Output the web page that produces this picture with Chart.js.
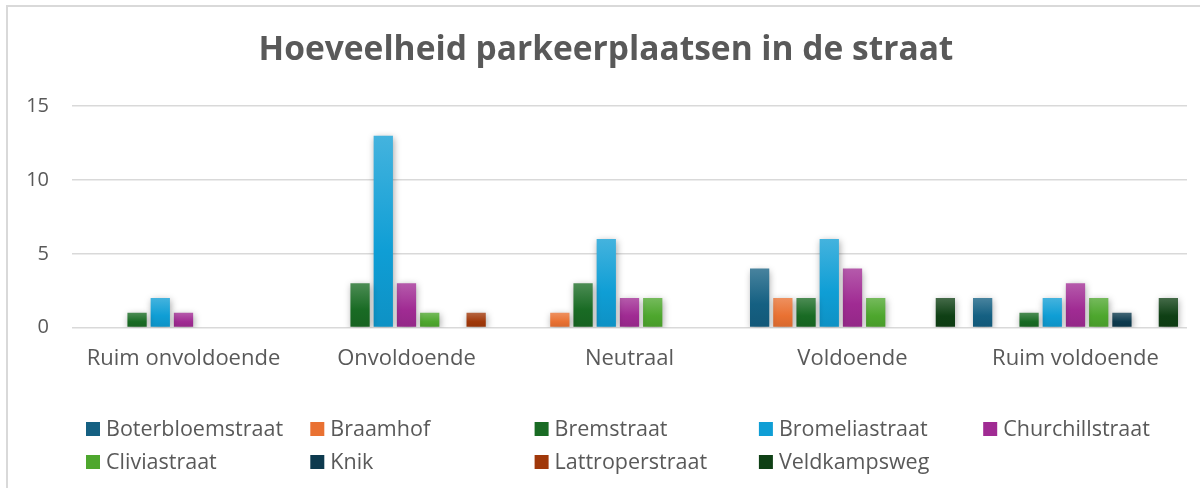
<!DOCTYPE html>
<html>
<head>
<meta charset="utf-8">
<script src="https://cdn.jsdelivr.net/npm/chart.js@4/dist/chart.umd.min.js"></script>
<style>
  html, body { margin: 0; padding: 0; background: #ffffff; }
  #wrap { width: 1200px; height: 488px; position: relative; }
</style>
</head>
<body>
<div id="wrap"><canvas id="chart" width="1200" height="488"></canvas></div>
<script>
// ── Données ──
const categories = ['Ruim onvoldoende', 'Onvoldoende', 'Neutraal', 'Voldoende', 'Ruim voldoende'];
const straten = ['Boterbloemstraat', 'Braamhof', 'Bremstraat', 'Bromeliastraat', 'Churchillstraat',
                 'Cliviastraat', 'Knik', 'Lattroperstraat', 'Veldkampsweg'];

const boterbloemstraat = [0, 0, 0, 4, 2];
const braamhof         = [0, 0, 1, 2, 0];
const bremstraat       = [1, 3, 3, 2, 1];
const bromeliastraat   = [2, 13, 6, 6, 2];
const churchillstraat  = [1, 3, 2, 4, 3];
const cliviastraat     = [0, 1, 2, 2, 2];
const knik             = [0, 0, 0, 0, 1];
const lattroperstraat  = [0, 1, 0, 0, 0];
const veldkampsweg     = [0, 0, 0, 2, 2];

const yTicks = [0, 5, 10, 15];

const series = [boterbloemstraat, braamhof, bremstraat, bromeliastraat, churchillstraat,
                cliviastraat, knik, lattroperstraat, veldkampsweg];

// Couleurs (thème Office)
const COULEURS = ['#156082', '#E97132', '#196B24', '#0F9ED5', '#A02B93',
                  '#4EA72E', '#0D3A4E', '#A0380A', '#0F4015'];

const TEXTE = '#595959';
const GRILLE = '#d9d9d9';
const FONT = "'Open Sans', 'Noto Sans', sans-serif";

function mix(hex, other, t) {
    const a = parseInt(hex.slice(1), 16), b = parseInt(other.slice(1), 16);
    const r = Math.round(((a >> 16) & 255) * (1 - t) + ((b >> 16) & 255) * t);
    const g = Math.round(((a >> 8) & 255) * (1 - t) + ((b >> 8) & 255) * t);
    const bl = Math.round((a & 255) * (1 - t) + (b & 255) * t);
    return `rgb(${r},${g},${bl})`;
}

// Dégradé vertical par barre
function degrade(couleur) {
    return function(ctx) {
        const chart = ctx.chart;
        if (!chart.chartArea || ctx.parsed === undefined) return couleur;
        const y = chart.scales.y;
        const top = y.getPixelForValue(ctx.parsed.y);
        const bottom = y.getPixelForValue(0);
        if (!(bottom - top > 0)) return couleur;
        const g = chart.ctx.createLinearGradient(0, top, 0, bottom);
        g.addColorStop(0, mix(couleur, '#ffffff', 0.22));
        g.addColorStop(0.6, couleur);
        g.addColorStop(1, mix(couleur, '#000000', 0.08));
        return g;
    };
}

// ── Plugins ──
const cadre = {
    id: 'cadre',
    beforeDraw(chart) {
        const c = chart.ctx;
        c.save();
        c.strokeStyle = GRILLE;
        c.lineWidth = 2;
        c.strokeRect(7, 6, 1250, 520);
        c.restore();
    }
};

const ombre = {
    id: 'ombre',
    beforeDatasetsDraw(chart) {
        const c = chart.ctx;
        c.save();
        c.shadowColor = 'rgba(0,0,0,0.35)';
        c.shadowBlur = 7;
        c.shadowOffsetX = 1;
        c.shadowOffsetY = 2;
    },
    afterDatasetsDraw(chart) {
        chart.ctx.restore();
    }
};

const legende = {
    id: 'legende',
    afterDraw(chart) {
        const c = chart.ctx;
        c.save();
        c.font = `21.5px ${FONT}`;
        c.textBaseline = 'middle';
        chart.data.datasets.forEach((ds, i) => {
            const col = i % 5, row = Math.floor(i / 5);
            const x = 86 + col * 224.3;
            const y = 429 + row * 33;
            c.fillStyle = ds.couleur;
            c.fillRect(x, y - 7, 14, 14);
            c.fillStyle = TEXTE;
            c.fillText(ds.label, x + 20, y + 1);
        });
        c.restore();
    }
};

new Chart(document.getElementById('chart'), {
    type: 'bar',
    data: {
        labels: categories,
        datasets: series.map((d, i) => ({
            label: straten[i],
            data: d,
            couleur: COULEURS[i],
            backgroundColor: degrade(COULEURS[i]),
            borderWidth: 0,
            categoryPercentage: 0.937,
            barPercentage: 0.83
        }))
    },
    options: {
        responsive: false,
        animation: false,
        layout: { padding: { left: 25, right: 13, top: 0, bottom: 106 } },
        plugins: {
            legend: { display: false },
            tooltip: { enabled: false },
            title: {
                display: true,
                text: 'Hoeveelheid parkeerplaatsen in de straat',
                color: TEXTE,
                font: { family: FONT, size: 33.5, weight: 'bold' },
                padding: { top: 30, bottom: 36 }
            }
        },
        scales: {
            x: {
                grid: { display: false },
                border: { display: false },
                ticks: {
                    color: TEXTE,
                    font: { family: FONT, size: 22 },
                    padding: 10,
                    maxRotation: 0
                }
            },
            y: {
                min: 0,
                max: 15,
                afterBuildTicks: s => { s.ticks = yTicks.map(v => ({ value: v })); },
                afterFit: s => { s.width = 47; },
                grid: { color: GRILLE, lineWidth: 1.5, drawTicks: false },
                border: { display: false },
                ticks: {
                    color: TEXTE,
                    font: { family: FONT, size: 20 },
                    padding: 23
                }
            }
        }
    },
    plugins: [cadre, ombre, legende]
});
</script>
</body>
</html>
